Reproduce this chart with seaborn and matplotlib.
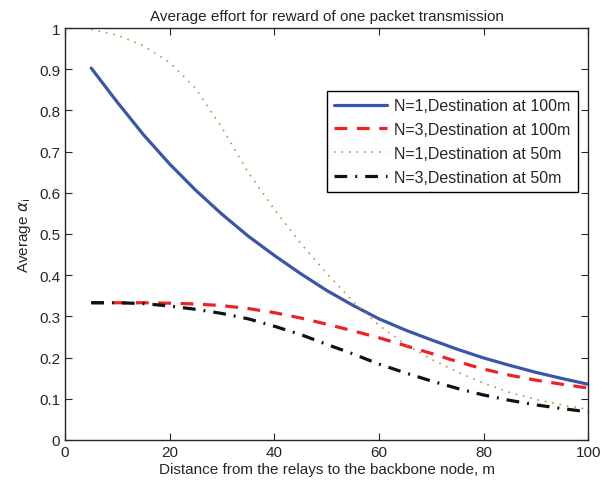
import numpy as np
import pandas as pd
import matplotlib
matplotlib.use("Agg")
import matplotlib.pyplot as plt
import seaborn as sns

distance = [5, 10, 15, 20, 25, 30, 35, 40, 45, 50, 55, 60, 65, 70, 75, 80, 85, 90, 95, 100]
n1_dest100 = [0.903, 0.820, 0.741, 0.670, 0.606, 0.548, 0.495, 0.448, 0.404, 0.363, 0.327, 0.294,
              0.267, 0.243, 0.220, 0.199, 0.181, 0.164, 0.149, 0.135]
n3_dest100 = [0.333, 0.333, 0.333, 0.332, 0.330, 0.326, 0.319, 0.309, 0.296, 0.281, 0.265, 0.248,
              0.229, 0.210, 0.190, 0.172, 0.157, 0.145, 0.135, 0.126]
n1_dest50 = [0.997, 0.983, 0.957, 0.917, 0.853, 0.758, 0.650, 0.560, 0.478, 0.405, 0.337, 0.278,
             0.233, 0.196, 0.165, 0.138, 0.115, 0.098, 0.085, 0.074]
n3_dest50 = [0.333, 0.333, 0.331, 0.325, 0.317, 0.307, 0.294, 0.276, 0.256, 0.232, 0.209, 0.184,
             0.163, 0.143, 0.125, 0.109, 0.096, 0.085, 0.076, 0.068]

labels = ["N=1,Destination at 100m", "N=3,Destination at 100m",
          "N=1,Destination at 50m", "N=3,Destination at 50m"]
series = [n1_dest100, n3_dest100, n1_dest50, n3_dest50]

sns.set_style("ticks")
plt.rcParams['font.family'] = ['Liberation Sans', 'DejaVu Sans']

fig = plt.figure(figsize=(6.02, 4.85), dpi=100)
ax = fig.add_axes([0.108, 0.091, 0.869, 0.849])

styles = [
    dict(color="#3a56a8", lw=2.3, ls="-"),
    dict(color="#ee2222", lw=2.3, ls=(0, (4, 3))),
    dict(color="#c8903a", lw=1.2, ls=(0, (1, 3.5))),
    dict(color="#111111", lw=2.3, ls=(0, (4, 2.5, 0.6, 2.5))),
]
for lab, vals, st in zip(labels, series, styles):
    df = pd.DataFrame({"x": distance, "y": vals})
    sns.lineplot(data=df, x="x", y="y", ax=ax, label=lab, color=st["color"],
                 linewidth=st["lw"], linestyle=st["ls"])

ax.set_xlim(0, 100)
ax.set_ylim(0, 1)
ax.set_xticks([0, 20, 40, 60, 80, 100])
ax.set_yticks(np.arange(0, 1.01, 0.1))
ax.set_yticklabels(["0", "0.1", "0.2", "0.3", "0.4", "0.5", "0.6", "0.7", "0.8", "0.9", "1"])
ax.tick_params(direction="in", top=True, right=True, labelsize=11, length=5)
for s in ax.spines.values():
    s.set_visible(True)
    s.set_linewidth(1.0)
ax.set_xlabel("Distance from the relays to the backbone node, m", fontsize=11, labelpad=2)
ax.set_ylabel(r"Average $\alpha_{\mathrm{i}}$", fontsize=11, labelpad=4)
ax.set_title("Average effort for reward of one packet transmission", fontsize=11, pad=6)

leg = ax.legend(loc="upper right", bbox_to_anchor=(0.98, 0.847), fontsize=11.5, frameon=True,
                fancybox=False, edgecolor="black", framealpha=1, handlelength=3.3,
                borderpad=0.45, labelspacing=0.55, handletextpad=0.45, borderaxespad=0)
leg.get_frame().set_linewidth(1.0)

fig.savefig("out.png", dpi=100)
